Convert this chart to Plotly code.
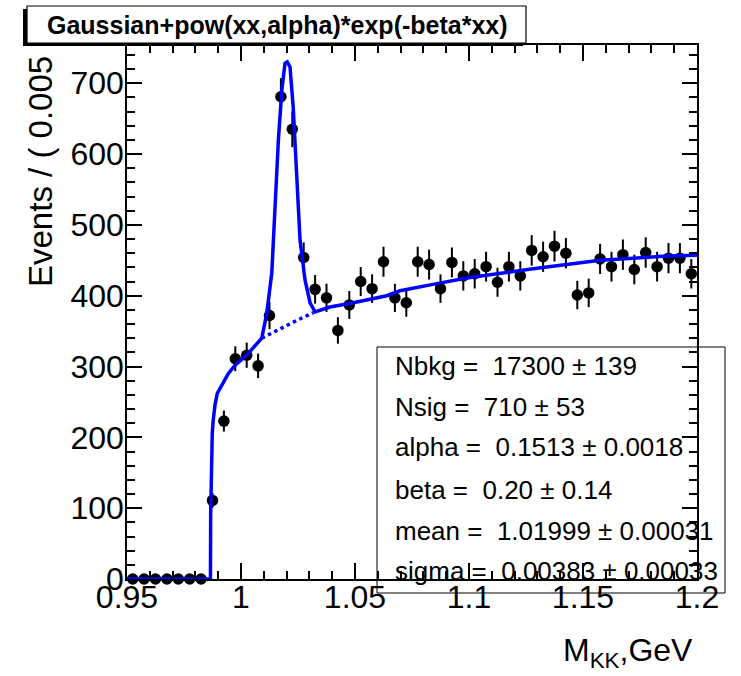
import plotly.graph_objects as go

# ---------------- data ----------------
bin_centers = [0.9525, 0.9575, 0.9625, 0.9675, 0.9725, 0.9775, 0.9825, 0.9875, 0.9925, 0.9975,
               1.0025, 1.0075, 1.0125, 1.0175, 1.0225, 1.0275, 1.0325, 1.0375, 1.0425, 1.0475,
               1.0525, 1.0575, 1.0625, 1.0675, 1.0725, 1.0775, 1.0825, 1.0875, 1.0925, 1.0975,
               1.1025, 1.1075, 1.1125, 1.1175, 1.1225, 1.1275, 1.1325, 1.1375, 1.1425, 1.1475,
               1.1525, 1.1575, 1.1625, 1.1675, 1.1725, 1.1775, 1.1825, 1.1875, 1.1925, 1.1975]
counts = [0, 0, 0, 0, 0, 0, 0, 111, 223, 311,
          316, 301, 372, 681, 635, 454, 409, 397, 351, 387,
          420, 410, 448, 397, 390, 448, 444, 410, 447, 428,
          431, 441, 419, 441, 428, 464, 455, 470, 460, 401,
          404, 452, 441, 458, 437, 461, 441, 453, 453, 431]
count_errors = [0, 0, 0, 0, 0, 0, 0, 10.5, 14.9, 17.6,
                17.8, 17.3, 19.3, 26.1, 25.2, 21.3, 20.2, 19.9, 18.7, 19.7,
                20.5, 20.2, 21.2, 19.9, 19.7, 21.2, 21.1, 20.2, 21.1, 20.7,
                20.8, 21.0, 20.5, 21.0, 20.7, 21.5, 21.3, 21.7, 21.4, 20.0,
                20.1, 21.3, 21.0, 21.4, 20.9, 21.5, 21.0, 21.3, 21.3, 20.8]

# total fit curve
fit_x = [0.95, 0.9866, 0.9867, 0.98695, 0.9874, 0.9878, 0.9886, 0.9896, 0.9915, 0.9944,
         0.9974, 1.0025, 1.0091, 1.0113, 1.0135, 1.0149, 1.0164, 1.0179, 1.0193, 1.0203,
         1.0215, 1.0229, 1.0244, 1.0259, 1.0281, 1.0303, 1.0325, 1.0390, 1.0493, 1.0639,
         1.0697, 1.0785, 1.0842, 1.0990, 1.1136, 1.1281, 1.1428, 1.1575, 1.1719, 1.1867, 1.2]
fit_y = [0, 0, 93, 177, 206, 224, 246, 262, 274, 290,
         302, 316, 340, 375, 432, 525, 620, 690, 728, 730,
         723, 666, 573, 478, 422, 390, 377, 384, 390, 400,
         407, 412, 416, 425, 432, 438, 444, 450, 453, 456, 457]

# background component (dotted line under the peak)
bkg_x = [1.0091, 1.0150, 1.0195, 1.0250, 1.0317]
bkg_y = [340, 350, 358, 366, 376]

x_tick_vals = [0.95, 1.0, 1.05, 1.1, 1.15, 1.2]
x_tick_text = ["0.95", "1", "1.05", "1.1", "1.15", "1.2"]
y_tick_vals = [0, 100, 200, 300, 400, 500, 600, 700]

stats_lines = ["Nbkg =\u00a0 17300 \u00b1 139",
               "Nsig =\u00a0 710 \u00b1 53",
               "alpha =\u00a0 0.1513 \u00b1 0.0018",
               "beta =\u00a0 0.20 \u00b1 0.14",
               "mean =\u00a0 1.01999 \u00b1 0.00031",
               "sigma =\u00a0 0.00383 \u00b1 0.00033"]
title_text = "Gaussian+pow(xx,alpha)*exp(-beta*xx)"

# ---------------- layout geometry (pixels) ----------------
W, H = 741, 676
L, R, T, B = 127, 697, 45, 579
FONT = "Liberation Sans, Arial, Helvetica, sans-serif"


def px(xp):
    return (xp - L) / (R - L)


def py(yp):
    return (B - yp) / (B - T)


fig = go.Figure()

fig.add_trace(go.Scatter(
    x=bin_centers, y=counts, mode="markers",
    marker=dict(color="black", size=11.5),
    error_y=dict(type="data", array=count_errors, visible=True,
                 color="black", thickness=2, width=0),
    cliponaxis=False, hoverinfo="x+y"))

fig.add_trace(go.Scatter(
    x=bkg_x, y=bkg_y, mode="lines",
    line=dict(color="#0000ff", width=3.5, dash="dot")))

fig.add_trace(go.Scatter(
    x=fit_x, y=fit_y, mode="lines",
    line=dict(color="#0000ff", width=3.5),
    cliponaxis=False))

axis_common = dict(
    showline=True, linecolor="black", linewidth=1.5, mirror="ticks",
    ticks="inside", tickcolor="black", tickwidth=1.5,
    showgrid=False, zeroline=False,
    tickfont=dict(family=FONT, size=32, color="black"),
)

fig.update_layout(
    width=W, height=H,
    margin=dict(l=L, r=W - R, t=T, b=H - B, pad=0, autoexpand=False),
    paper_bgcolor="white", plot_bgcolor="white",
    showlegend=False,
    xaxis=dict(range=[0.95, 1.2], tickmode="array", tickvals=x_tick_vals,
               ticktext=x_tick_text, ticklen=16, ticklabelstandoff=-11,
               minor=dict(dtick=0.01, tick0=0.95, ticks="inside", ticklen=8,
                          tickcolor="black", tickwidth=1.5),
               **axis_common),
    yaxis=dict(range=[0, 754], tickmode="array", tickvals=y_tick_vals,
               ticklen=15, ticklabelstandoff=-5,
               minor=dict(dtick=20, tick0=0, ticks="inside", ticklen=8,
                          tickcolor="black", tickwidth=1.5),
               **axis_common),
)

shapes = []
# title box shadow + box
shapes.append(dict(type="rect", xref="paper", yref="paper",
                   x0=px(23), x1=px(523), y0=py(46), y1=py(9),
                   fillcolor="black", line=dict(width=0), layer="above"))
shapes.append(dict(type="rect", xref="paper", yref="paper",
                   x0=px(27), x1=px(526), y0=py(43), y1=py(6),
                   fillcolor="white", line=dict(color="black", width=1.2), layer="above"))
# stats box
shapes.append(dict(type="rect", xref="paper", yref="paper",
                   x0=px(377), x1=px(725), y0=py(593), y1=py(347),
                   fillcolor="white", line=dict(color="black", width=1), layer="below"))
fig.update_layout(shapes=shapes)

ann = []
ann.append(dict(text="<b>" + title_text + "</b>", xref="paper", yref="paper",
                x=px(277), y=py(25), xanchor="center", yanchor="middle",
                showarrow=False, font=dict(family=FONT, size=25, color="black")))
stat_y = [366, 407, 447, 490, 531, 571]
for s, yy in zip(stats_lines, stat_y):
    ann.append(dict(text=s, xref="paper", yref="paper",
                    x=px(393), y=py(yy), xanchor="left", yanchor="middle",
                    showarrow=False, font=dict(family=FONT, size=26, color="black")))
# y axis title
ann.append(dict(text="Events / ( 0.005", xref="paper", yref="paper",
                x=px(40), y=py(172), xanchor="center", yanchor="middle",
                textangle=-90, showarrow=False,
                font=dict(family=FONT, size=33, color="black")))
# x axis title
ann.append(dict(text="M<sub>KK</sub>,GeV", xref="paper", yref="paper",
                x=px(695), y=py(652), xanchor="right", yanchor="middle",
                showarrow=False, font=dict(family=FONT, size=32, color="black")))
fig.update_layout(annotations=ann)

fig.write_html("out.html",
               config={"displayModeBar": False},
               post_script="document.body.style.margin='0';document.body.style.padding='0';")
